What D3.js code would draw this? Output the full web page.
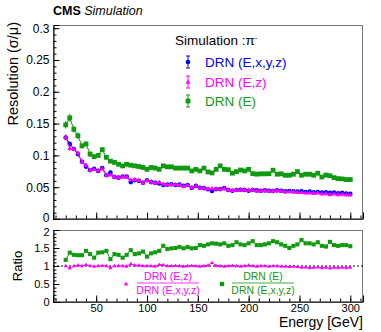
<!DOCTYPE html>
<html>
<head>
<meta charset="utf-8">
<script src="https://cdn.jsdelivr.net/npm/d3@7"></script>
<style>
  body { margin: 0; background: #fff; }
  svg { font-family: "Liberation Sans", Arial, sans-serif; }
</style>
</head>
<body>
<div id="chart"></div>
<script>
// beam energies (GeV)
let energy = [20, 24, 28, 32, 36, 40, 44, 48, 52, 56, 60, 64, 68, 72, 76, 80, 84, 88, 92, 96,
    100, 104, 108, 112, 116, 120, 124, 128, 132, 136, 140, 144, 148, 152, 156, 160, 164, 168, 172, 176,
    180, 184, 188, 192, 196, 200, 204, 208, 212, 216, 220, 224, 228, 232, 236, 240, 244, 248, 252, 256,
    260, 264, 268, 272, 276, 280, 284, 288, 292, 296, 300];

// resolution sigma/mu
let resXYZ = [0.128, 0.118, 0.110, 0.102, 0.090, 0.0824, 0.0767, 0.079, 0.0756, 0.080,
    0.0688, 0.073, 0.066, 0.065, 0.0667, 0.0667, 0.058, 0.061, 0.060, 0.057,
    0.061, 0.058, 0.057, 0.056, 0.0535, 0.054, 0.0545, 0.0535, 0.054, 0.052,
    0.0535, 0.049, 0.052, 0.049, 0.0485, 0.0467, 0.044, 0.0467, 0.047, 0.0485,
    0.0455, 0.0445, 0.0455, 0.046, 0.0455, 0.0445, 0.0455, 0.045, 0.0445, 0.045,
    0.0445, 0.044, 0.045, 0.0445, 0.0435, 0.044, 0.0435, 0.043, 0.0435, 0.0425,
    0.043, 0.042, 0.0425, 0.0415, 0.042, 0.041, 0.0415, 0.0405, 0.041, 0.040, 0.0395];

let resZ = [0.129, 0.111, 0.110, 0.104, 0.090, 0.085, 0.0767, 0.078, 0.0756, 0.079,
    0.0688, 0.0694, 0.066, 0.065, 0.0667, 0.066, 0.0615, 0.062, 0.061, 0.057,
    0.061, 0.058, 0.0565, 0.058, 0.055, 0.054, 0.0545, 0.054, 0.054, 0.0515,
    0.0535, 0.0495, 0.052, 0.0485, 0.0485, 0.0476, 0.048, 0.047, 0.047, 0.048,
    0.0455, 0.045, 0.0455, 0.0455, 0.0455, 0.0454, 0.0455, 0.0445, 0.0445, 0.045,
    0.044, 0.044, 0.045, 0.044, 0.043, 0.043, 0.043, 0.042, 0.0418, 0.041,
    0.041, 0.0405, 0.041, 0.0395, 0.040, 0.0385, 0.0395, 0.0385, 0.0393, 0.038, 0.038];

let resE = [0.148, 0.159, 0.141, 0.131, 0.115, 0.118, 0.102, 0.098, 0.100, 0.109,
    0.097, 0.091, 0.089, 0.086, 0.0835, 0.086, 0.0845, 0.0835, 0.0825, 0.081,
    0.078, 0.081, 0.080, 0.078, 0.0835, 0.082, 0.082, 0.080, 0.080, 0.080,
    0.080, 0.0756, 0.078, 0.0756, 0.080, 0.074, 0.0724, 0.078, 0.0835, 0.078,
    0.0775, 0.072, 0.0745, 0.077, 0.0756, 0.078, 0.0713, 0.0705, 0.071, 0.071,
    0.0712, 0.0767, 0.0704, 0.071, 0.0688, 0.0688, 0.0704, 0.0745, 0.0688, 0.0704,
    0.0704, 0.0688, 0.072, 0.066, 0.069, 0.068, 0.065, 0.0635, 0.063, 0.062, 0.062];

// error bars (only the first energies are visibly larger than the markers)
let errE = [0.006, 0.006, 0.005, 0.005, 0.004, 0.004, 0.004, 0.003, 0.003, 0.003, 0.003, 0.003];
let errXYZ = [0.004, 0.004, 0.003, 0.003, 0.003, 0.003, 0.002, 0.002];
let errTail = 0.0015;

// ratios to DRN (E,x,y,z)
let ratioZ = [1.00, 0.94, 1.00, 1.02, 1.00, 1.04, 1.00, 0.99, 1.00, 1.01,
    1.00, 0.95, 1.00, 1.00, 1.00, 0.99, 1.06, 1.02, 1.02, 1.00,
    1.00, 1.00, 0.99, 1.04, 1.03, 1.00, 1.00, 1.01, 1.00, 0.99,
    1.00, 1.01, 1.00, 0.99, 1.00, 1.02, 1.09, 1.01, 1.00, 0.99,
    1.00, 1.01, 1.00, 0.99, 1.00, 1.02, 1.00, 0.99, 1.00, 1.00,
    0.99, 1.00, 1.00, 0.99, 0.99, 0.98, 0.99, 0.98, 0.96, 0.97,
    0.95, 0.96, 0.97, 0.95, 0.96, 0.94, 0.96, 0.95, 0.96, 0.95, 0.96];

let ratioE = [1.17, 1.37, 1.31, 1.30, 1.30, 1.42, 1.33, 1.23, 1.37, 1.38,
    1.42, 1.19, 1.33, 1.31, 1.23, 1.31, 1.44, 1.33, 1.35, 1.40,
    1.26, 1.35, 1.38, 1.42, 1.56, 1.47, 1.49, 1.50, 1.53, 1.49,
    1.53, 1.49, 1.50, 1.58, 1.56, 1.60, 1.63, 1.62, 1.60, 1.63,
    1.56, 1.58, 1.66, 1.60, 1.58, 1.63, 1.69, 1.58, 1.58, 1.60,
    1.63, 1.69, 1.66, 1.60, 1.56, 1.50, 1.56, 1.60, 1.72, 1.63,
    1.63, 1.60, 1.66, 1.56, 1.54, 1.67, 1.58, 1.56, 1.58, 1.58, 1.55];

let yTicksTop = [0, 0.05, 0.1, 0.15, 0.2, 0.25, 0.3];
let yTicksRatio = [0, 0.5, 1, 1.5, 2];
let xTicks = [50, 100, 150, 200, 250, 300];

const blue = "#0000ff", magenta = "#ff00ff", green = "#109a10";
const width = 381, height = 332;
const left = 53, right = 363;

let svg = d3.select("#chart").append("svg")
    .attr("width", width)
    .attr("height", height);

let x = d3.scaleLinear().domain([7.5, 312.5]).range([left, right]);
let yTop = d3.scaleLinear().domain([0, 0.305]).range([219, 25]);
let yRat = d3.scaleLinear().domain([0, 2]).range([302, 230]);

const errAt = (arr, i) => i < arr.length ? arr[i] : errTail;

// ---- frames and axes ----
const frame = (y0, y1) => {
    svg.append("rect")
        .attr("x", left + 0.5).attr("y", y0 + 0.5)
        .attr("width", right - left - 1).attr("height", y1 - y0)
        .attr("fill", "none").attr("stroke", "#777").attr("stroke-width", 1);
}
frame(25, 219);
frame(230, 302);

// edgeShift nudges the label at the panel edge (top "0" / ratio "2") so the two panels' labels do not touch
const drawYAxis = (scale, major, minorStep, fs, edgeVal, edgeShift) => {
    let d = scale.domain();
    let minor = d3.range(d[0], d[1] + 1e-9, minorStep);
    let g = svg.append("g").attr("transform", `translate(${left + 0.5},0)`);
    g.call(d3.axisLeft(scale).tickValues(minor).tickSize(-3).tickFormat(""));
    g.call(g2 => g2.select(".domain").remove());
    let gm = svg.append("g").attr("transform", `translate(${left + 0.5},0)`);
    gm.call(d3.axisLeft(scale).tickValues(major).tickSize(-6).tickPadding(4).tickFormat(d3.format("~g")));
    gm.selectAll("text").style("font-size", fs + "px").attr("fill", "#000");
    gm.selectAll(".tick").filter(v => v === edgeVal).select("text").attr("y", edgeShift);
    gm.select(".domain").attr("stroke", "#000");
    svg.selectAll(".tick line").attr("stroke", "#000");
}

const drawXAxis = (yScale, labels) => {
    let y0 = yScale.range()[0];
    let minor = d3.range(10, 311, 10);
    let g = svg.append("g").attr("transform", `translate(0,${y0 - 0.5})`);
    g.call(d3.axisBottom(x).tickValues(minor).tickSize(-3).tickFormat(""));
    g.select(".domain").remove();
    let gm = svg.append("g").attr("transform", `translate(0,${y0 - 0.5})`);
    gm.call(d3.axisBottom(x).tickValues(xTicks).tickSize(-6).tickPadding(3)
        .tickFormat(labels ? d3.format("d") : ""));
    gm.select(".domain").attr("stroke", "#000");
    gm.selectAll("text").style("font-size", "11px").attr("fill", "#000");
    svg.selectAll(".tick line").attr("stroke", "#000");
}

drawYAxis(yTop, yTicksTop, 0.01, 12, 0, -1.5);
drawXAxis(yTop, false);
drawYAxis(yRat, yTicksRatio, 0.1, 11, 2, 1.5);
drawXAxis(yRat, true);

// ratio = 1 reference
svg.append("line")
    .attr("x1", left).attr("x2", right)
    .attr("y1", yRat(1)).attr("y2", yRat(1))
    .attr("stroke", "#000").attr("stroke-dasharray", "2,2");

// ---- markers ----
const marker = (g, shape, color, cx, cy, s = 1) => {
    if (shape === "circle") {
        g.append("circle").attr("cx", cx).attr("cy", cy).attr("r", 2.3 * s).attr("fill", color);
    } else if (shape === "square") {
        g.append("rect").attr("x", cx - 2.4 * s).attr("y", cy - 2.4 * s)
            .attr("width", 4.8 * s).attr("height", 4.8 * s).attr("fill", color);
    } else {
        g.append("path")
            .attr("d", `M${cx},${cy - 2.7 * s}L${cx + 2.4 * s},${cy + 1.7 * s}L${cx - 2.4 * s},${cy + 1.7 * s}Z`)
            .attr("fill", color);
    }
}

const series = (vals, errs, yScale, color, shape, withErr, s) => {
    let g = svg.append("g");
    let line = d3.line().x((d, i) => x(energy[i])).y(d => yScale(d));
    g.append("path").datum(vals).attr("d", line)
        .attr("fill", "none").attr("stroke", color).attr("stroke-width", 1);
    vals.forEach((v, i) => {
        if (withErr) {
            let e = errAt(errs, i);
            let cx = x(energy[i]);
            g.append("line").attr("x1", cx).attr("x2", cx)
                .attr("y1", yScale(v - e)).attr("y2", yScale(v + e))
                .attr("stroke", color).attr("stroke-width", 1);
        }
        marker(g, shape, color, x(energy[i]), yScale(v), s);
    });
}

series(resE, errE, yTop, green, "square", true, 1);
series(resXYZ, errXYZ, yTop, blue, "circle", true, 1);
series(resZ, errXYZ, yTop, magenta, "triangle", true, 1);

series(ratioE, [], yRat, green, "square", false, 0.85);
series(ratioZ, [], yRat, magenta, "triangle", false, 0.8);

// ---- texts ----
let title = svg.append("text").attr("x", 53).attr("y", 15).style("font-size", "12.5px");
title.append("tspan").text("CMS").style("font-weight", "bold");
title.append("tspan").text(" Simulation").style("font-style", "italic");

svg.append("text")
    .attr("transform", "translate(18,22) rotate(-90)")
    .attr("text-anchor", "end")
    .style("font-size", "14.5px")
    .text("Resolution (σ/μ)");

svg.append("text")
    .attr("transform", "translate(22,266) rotate(-90)")
    .attr("text-anchor", "middle")
    .style("font-size", "13px")
    .text("Ratio");

svg.append("text")
    .attr("x", right).attr("y", 327)
    .attr("text-anchor", "end")
    .style("font-size", "14px")
    .text("Energy [GeV]");

// legend
let leg = svg.append("text").attr("x", 175).attr("y", 45).style("font-size", "13.5px");
leg.append("tspan").text("Simulation :π");
leg.append("tspan").text("-").attr("dy", -5).style("font-size", "8px");

let legItems = [
    { label: "DRN (E,x,y,z)", color: blue, shape: "circle", y: 62 },
    { label: "DRN (E,z)", color: magenta, shape: "triangle", y: 82 },
    { label: "DRN (E)", color: green, shape: "square", y: 101 }
];
legItems.forEach(d => {
    let g = svg.append("g");
    g.append("line").attr("x1", 188).attr("x2", 188).attr("y1", d.y - 6).attr("y2", d.y + 6)
        .attr("stroke", d.color);
    g.append("line").attr("x1", 186).attr("x2", 190).attr("y1", d.y - 6).attr("y2", d.y - 6)
        .attr("stroke", d.color);
    g.append("line").attr("x1", 186).attr("x2", 190).attr("y1", d.y + 6).attr("y2", d.y + 6)
        .attr("stroke", d.color);
    marker(g, d.shape, d.color, 188, d.y);
    g.append("text").attr("x", 205).attr("y", d.y + 5).attr("fill", d.color)
        .style("font-size", "13.5px").text(d.label);
});

// ratio legends (fractions)
const fraction = (cx, mx, num, den, color, shape) => {
    let g = svg.append("g");
    marker(g, shape, color, mx, 284, 0.9);
    g.append("text").attr("x", cx).attr("y", 280).attr("text-anchor", "middle")
        .attr("fill", color).style("font-size", "10.5px").text(num);
    g.append("text").attr("x", cx).attr("y", 294).attr("text-anchor", "middle")
        .attr("fill", color).style("font-size", "10.5px").text(den);
    g.append("line").attr("x1", cx - 31).attr("x2", cx + 31).attr("y1", 283).attr("y2", 283)
        .attr("stroke", color).attr("stroke-width", 0.8);
}
fraction(168, 126, "DRN (E,z)", "DRN (E,x,y,z)", magenta, "triangle");
fraction(263, 222, "DRN (E)", "DRN (E,x,y,z)", green, "square");
</script>
</body>
</html>
